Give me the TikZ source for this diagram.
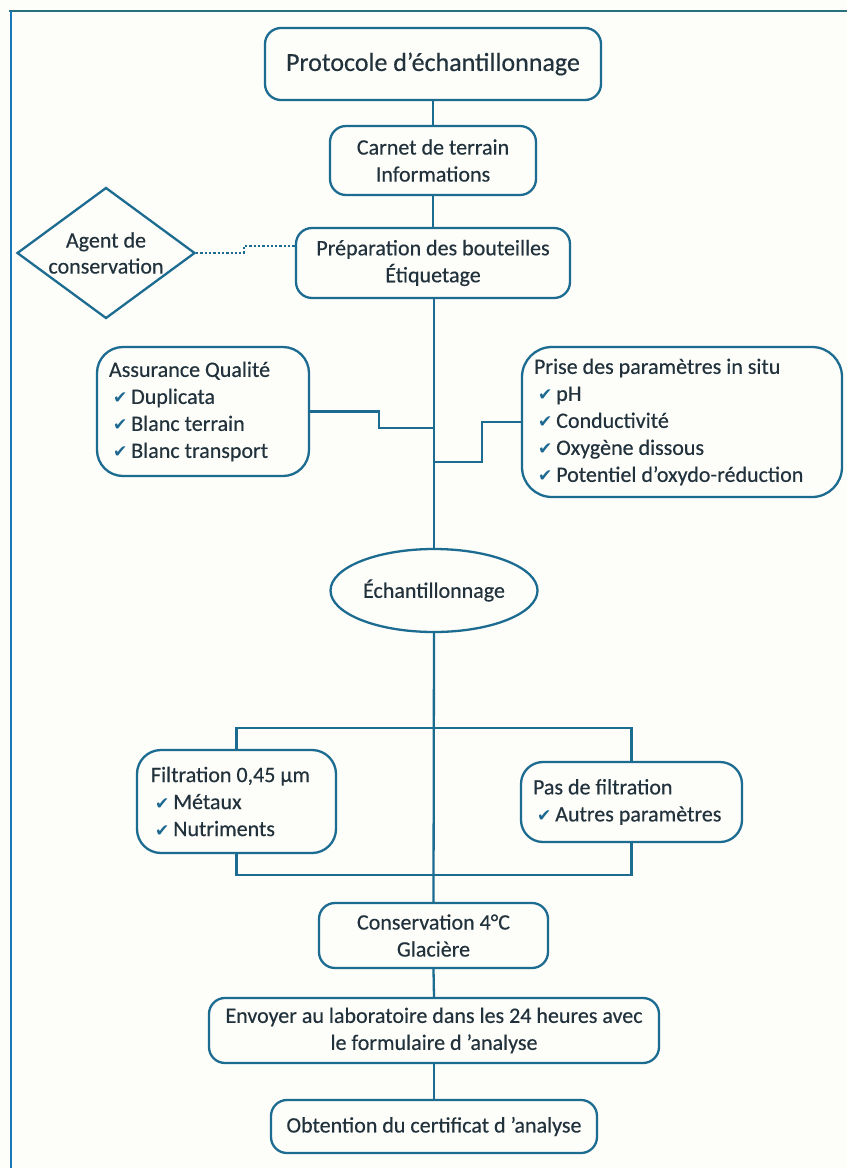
\documentclass[tikz,border=0pt]{standalone}
\usepackage{fontspec}
\setmainfont{Carlito}[FakeBold=0.4]
\newfontfamily\dejavu{DejaVu Sans}
\usetikzlibrary{shapes.geometric}
\definecolor{linecol}{RGB}{28,108,145}
\definecolor{txtcol}{RGB}{34,50,60}
\definecolor{chkcol}{RGB}{30,105,145}
\definecolor{bgcol}{RGB}{253,253,249}
\definecolor{frametop}{RGB}{40,112,125}
\definecolor{frameleft}{RGB}{25,120,185}
\newcommand{\chk}{\hspace*{4pt}{\color{chkcol}\dejavu\fontsize{17}{17}\selectfont ✔}\hspace{4pt}}
\tikzset{
  box/.style={draw=linecol, line width=2.3pt, rounded corners=16pt, fill=bgcol,
    text=txtcol, align=center, inner sep=0pt, font=\fontsize{22}{27}\selectfont},
  lbox/.style={box, align=flush left, inner ysep=0pt, rounded corners=26pt},
  conn/.style={draw=linecol, line width=2.3pt},
  dotconn/.style={draw=linecol, line width=2.3pt, dotted}
}
\begin{document}
\begin{tikzpicture}[x=1pt,y=-1pt]
\useasboundingbox (0,0) rectangle (847,1168);
\fill[bgcol] (0,0) rectangle (847,1168);
\draw[frametop, line width=2.5pt] (9,11) -- (847,11);
\draw[frameleft, line width=2.5pt] (11,11) -- (11,1168);

\node[box, minimum width=336pt, minimum height=72pt, font=\fontsize{26}{30}\selectfont] (title) at (433,64) {Protocole d’échantillonnage};
\node[box, minimum width=206pt, minimum height=69pt] (carnet) at (433,160.5) {Carnet de terrain\\Informations};
\node[box, minimum width=274pt, minimum height=70pt] (prep) at (433,263) {Préparation des bouteilles\\Étiquetage};
\node[diamond, draw=linecol, line width=2.3pt, fill=bgcol, text=txtcol, align=center, inner sep=0pt, aspect=1.36, minimum width=178pt, minimum height=131pt, font=\fontsize{22}{26}\selectfont] (agent) at (106,253) {Agent de\\conservation};

\node[lbox, text width=188pt, inner xsep=12pt, minimum height=129pt] (aq) at (203,411.5) {Assurance Qualité\\\chk Duplicata\\\chk Blanc terrain\\\chk Blanc transport};
\node[lbox, text width=296pt, inner xsep=12pt, minimum height=150pt, rounded corners=30pt] (param) at (682,422) {Prise des paramètres in situ\\\chk pH\\\chk Conductivité\\\chk Oxygène dissous\\\chk Potentiel d’oxydo-réduction};

\node[ellipse, draw=linecol, line width=2.3pt, fill=bgcol, text=txtcol, inner sep=0pt, minimum width=207pt, minimum height=83pt, font=\fontsize{22}{27}\selectfont] (ech) at (434,590.5) {Échantillonnage};

\node[lbox, text width=171pt, inner xsep=14pt, minimum height=103pt, rounded corners=24pt] (filt) at (236.5,801.5) {Filtration 0,45 µm\\\chk Métaux\\\chk Nutriments};
\node[lbox, text width=197pt, inner xsep=12pt, minimum height=80pt, rounded corners=22pt] (pas) at (631.5,802) {Pas de filtration\\\chk Autres paramètres};

\node[box, minimum width=229pt, minimum height=65pt] (cons) at (433.5,935.5) {Conservation 4°C\\Glacière};
\node[box, minimum width=450pt, minimum height=65pt] (env) at (434,1030.5) {Envoyer au laboratoire dans les 24 heures avec\\le formulaire d ’analyse};
\node[box, minimum width=326pt, minimum height=53pt] (obt) at (434,1126.5) {Obtention du certificat d ’analyse};

\coordinate (j1) at (433,428);
\coordinate (j2) at (433,462);
\coordinate (split) at (433,728);
\coordinate (join) at (433,875);
\coordinate (d1) at (296,246);

\draw[conn] (title.south) -- (carnet.north);
\draw[conn] (carnet.south) -- (prep.north);
\draw[conn] (prep.south -| ech.north) -- (ech.north);
\draw[conn] (aq.east) -- ++(69,0) |- (j1);
\draw[conn] (param.west) -- ++(-39,0) |- (j2);
\draw[dotconn] (agent.east) -- ++(48,0) |- (d1);
\draw[conn] (ech.south) -- (cons.north);
\draw[conn] (filt.north) |- (split) -| (pas.north);
\draw[conn] (filt.south) |- (join) -| (pas.south);
\draw[conn] (cons.south) -- (env.north);
\draw[conn] (env.south) -- (obt.north);
\end{tikzpicture}
\end{document}
